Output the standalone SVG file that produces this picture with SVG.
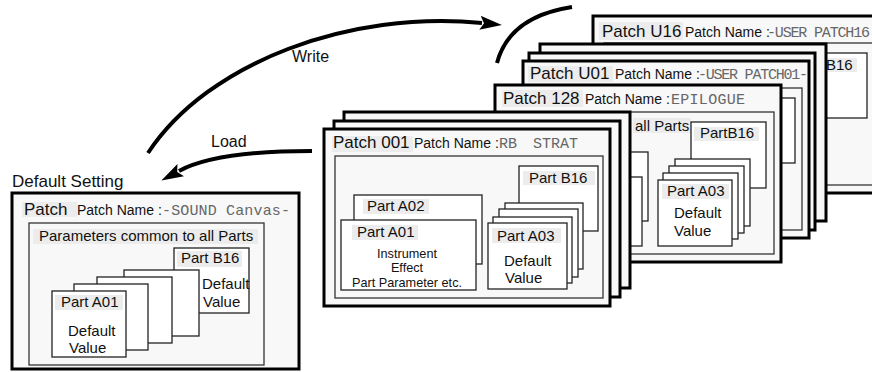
<svg xmlns="http://www.w3.org/2000/svg" width="872" height="372" viewBox="0 0 872 372">
<style>
.pb{fill:#f8f8f8;stroke:#000;stroke-width:3}
.ib{fill:#f8f8f8;stroke:#333;stroke-width:1.3}
.pt{fill:#fff;stroke:#222;stroke-width:1.3}
.bg{fill:#ececec}
text{font-family:"Liberation Sans",Arial,sans-serif;fill:#111}
.ttl{font-size:17px}
.pn{font-size:14px}
.lcd{font-family:"Liberation Mono","DejaVu Sans Mono",monospace;font-size:15px;fill:#666}
.lb{font-size:15px}
.sm{font-size:12.7px}
.arr{fill:none;stroke:#000;stroke-width:4}
</style>
<defs>
<marker id="ah" markerUnits="userSpaceOnUse" markerWidth="24" markerHeight="16" refX="2" refY="8" orient="auto">
<path d="M0,1 L22,8 L0,15 L4,8 Z" fill="#000"/>
</marker>
</defs>

<g id="patch-u16" transform="translate(593,16)">
<rect class="pb" x="0" y="0" width="286" height="177"/>
<rect class="bg" x="6" y="6" width="84" height="18"/>
<text class="ttl" x="9" y="21">Patch U16</text>
<text class="pn" x="92" y="21">Patch Name :</text>
<text class="lcd" x="174" y="21" textLength="103" lengthAdjust="spacing">-USER PATCH16</text>
<rect class="ib" x="11" y="27" width="290" height="142"/>
<rect class="pt" x="195" y="37" width="79" height="65"/>
<rect class="bg" x="230" y="42" width="34" height="14"/>
<text class="lb" x="233" y="54">B16</text>
</g>

<g id="patch-u03">
<rect class="pb" x="540" y="44" width="286" height="177"/>
</g>
<g id="patch-u02">
<rect class="pb" x="529" y="53" width="286" height="177"/>
</g>

<g id="patch-u01" transform="translate(523,61)">
<rect class="pb" x="0" y="0" width="286" height="177"/>
<rect class="bg" x="5" y="5" width="85" height="16"/>
<text class="ttl" x="7" y="18">Patch U01</text>
<text class="pn" x="92" y="18">Patch Name :</text>
<text class="lcd" x="175" y="18" textLength="110" lengthAdjust="spacing">-USER PATCH01-</text>
<rect class="ib" x="11" y="27" width="268" height="142"/>
<rect class="pt" x="195" y="37" width="77" height="65"/>
</g>

<g id="patch-128" transform="translate(495,85)">
<rect class="pb" x="0" y="0" width="286" height="177"/>
<rect class="bg" x="7" y="5" width="81" height="17"/>
<text class="ttl" x="8" y="19">Patch 128</text>
<text class="pn" x="90" y="19">Patch Name :</text>
<text class="lcd" x="176" y="19" textLength="74" lengthAdjust="spacing">EPILOGUE</text>
<rect class="ib" x="11" y="27" width="268" height="142"/>
<rect class="bg" x="138" y="33" width="58" height="15"/>
<text class="lb" x="140" y="46">all Parts</text>
<rect class="pt" x="30" y="67" width="123" height="69"/>
<rect class="pt" x="17" y="92" width="130" height="69"/>
<rect class="pt" x="196" y="37" width="75" height="66"/>
<rect class="bg" x="199" y="42" width="65" height="14"/>
<text class="lb" x="205" y="53">PartB16</text>
<rect class="pt" x="180" y="74" width="75" height="67"/>
<rect class="pt" x="174" y="81" width="75" height="67"/>
<rect class="pt" x="168" y="88" width="75" height="66"/>
<rect class="pt" x="163" y="95" width="74" height="66"/>
<rect class="bg" x="167" y="99" width="67" height="15"/>
<text class="lb" x="172" y="111">Part A03</text>
<text class="lb" x="179" y="133">Default</text>
<text class="lb" x="179" y="151">Value</text>
</g>

<g id="patch-003">
<rect class="pb" x="344" y="112" width="286" height="176"/>
</g>
<g id="patch-002">
<rect class="pb" x="334" y="121" width="286" height="176"/>
</g>

<g id="patch-001" transform="translate(324,129)">
<rect class="pb" x="0" y="0" width="286" height="177"/>
<rect class="bg" x="8" y="7" width="81" height="16"/>
<text class="ttl" x="9" y="19">Patch 001</text>
<text class="pn" x="90" y="19">Patch Name :</text>
<text class="lcd" x="175" y="19" word-spacing="7">RB STRAT</text>
<rect class="ib" x="11" y="27" width="268" height="142"/>
<rect class="pt" x="30" y="66" width="128" height="69"/>
<rect class="bg" x="39" y="70" width="66" height="15"/>
<text class="lb" x="43" y="82">Part A02</text>
<rect class="pt" x="17" y="91" width="135" height="70"/>
<rect class="bg" x="28" y="96" width="66" height="15"/>
<text class="lb" x="33" y="108">Part A01</text>
<text class="sm" x="83" y="129" text-anchor="middle">Instrument</text>
<text class="sm" x="83" y="143" text-anchor="middle">Effect</text>
<text class="sm" x="83" y="158" text-anchor="middle">Part Parameter etc.</text>
<rect class="pt" x="195" y="37" width="79" height="65"/>
<rect class="bg" x="199" y="42" width="72" height="14"/>
<text class="lb" x="205" y="54">Part B16</text>
<rect class="pt" x="181" y="74" width="78" height="66"/>
<rect class="pt" x="175" y="80" width="79" height="68"/>
<rect class="pt" x="169" y="88" width="79" height="66"/>
<rect class="pt" x="164" y="94" width="79" height="66"/>
<rect class="bg" x="168" y="99" width="69" height="15"/>
<text class="lb" x="173" y="112">Part A03</text>
<text class="lb" x="180" y="137">Default</text>
<text class="lb" x="181" y="154">Value</text>
</g>

<g id="default-setting">
<text class="ttl" x="12" y="187">Default Setting</text>
<rect class="pb" x="12" y="193" width="287" height="176"/>
<rect class="bg" x="22" y="202" width="55" height="15"/>
<text class="ttl" x="24" y="215">Patch</text>
<text class="pn" x="77" y="215">Patch Name :</text>
<text class="lcd" x="162" y="215" textLength="128" lengthAdjust="spacing">-SOUND Canvas-</text>
<rect class="ib" x="29" y="223" width="235" height="142"/>
<rect class="bg" x="33" y="229" width="225" height="15"/>
<text class="lb" x="39" y="241">Parameters common to all Parts</text>
<rect class="pt" x="174" y="248" width="75" height="65"/>
<rect class="bg" x="177" y="251" width="65" height="16"/>
<text class="lb" x="181" y="263">Part B16</text>
<text class="lb" x="202" y="289">Default</text>
<text class="lb" x="203" y="307">Value</text>
<rect class="pt" x="124" y="270" width="75" height="66"/>
<rect class="pt" x="97" y="277" width="75" height="66"/>
<rect class="pt" x="74" y="284" width="74" height="66"/>
<rect class="pt" x="52" y="291" width="74" height="66"/>
<rect class="bg" x="55" y="295" width="68" height="15"/>
<text class="lb" x="61" y="307">Part A01</text>
<text class="lb" x="68" y="336">Default</text>
<text class="lb" x="69" y="353">Value</text>
</g>

<g id="connectors">
<path class="arr" d="M148,153 C208,62 350,10 482,23" marker-end="url(#ah)"/>
<path class="arr" d="M497,63 C503,40 520,15 572,7"/>
<path class="arr" d="M312,151 C255,151 205,157 179,171" marker-end="url(#ah)"/>
<text class="lb" x="292" y="62" style="font-size:16px">Write</text>
<text class="lb" x="211" y="147" style="font-size:16px">Load</text>
</g>
</svg>
